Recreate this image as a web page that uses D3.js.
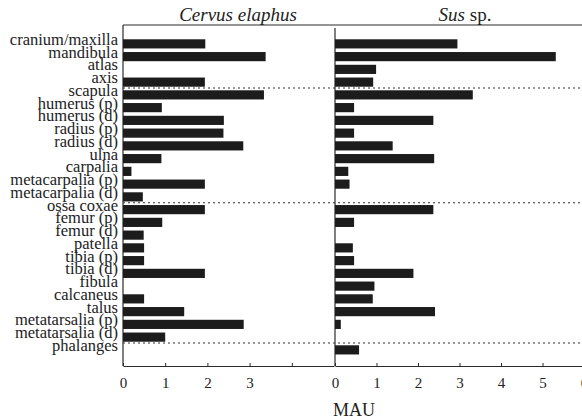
<!DOCTYPE html>
<html>
<head>
<meta charset="utf-8">
<script src="https://cdn.jsdelivr.net/npm/d3@7"></script>
<style>
  body { margin: 0; background: #fff; }
  svg { display: block; font-family: "Liberation Serif", "Times New Roman", serif; }
  .axis path, .axis line { stroke: #2a2a2a; }
  .axis text { font-size: 15px; fill: #222; font-family: "Liberation Serif", serif; }
</style>
</head>
<body>
<svg id="chart" width="582" height="420"></svg>
<script>
// skeletal parts, top to bottom
const parts = [
  "cranium/maxilla", "mandibula", "atlas", "axis", "scapula",
  "humerus (p)", "humerus (d)", "radius (p)", "radius (d)", "ulna",
  "carpalia", "metacarpalia (p)", "metacarpalia (d)", "ossa coxae",
  "femur (p)", "femur (d)", "patella", "tibia (p)", "tibia (d)",
  "fibula", "calcaneus", "talus", "metatarsalia (p)", "metatarsalia (d)",
  "phalanges"
];

// MAU values
const cervus = [1.95, 3.38, 0, 1.94, 3.34, 0.92, 2.39, 2.38, 2.85, 0.91,
  0.2, 1.94, 0.47, 1.94, 0.93, 0.49, 0.5, 0.5, 1.94, 0, 0.5, 1.45, 2.86, 1.0, 0];
const sus = [2.95, 5.32, 0.99, 0.92, 3.32, 0.46, 2.37, 0.46, 1.39, 2.39,
  0.32, 0.35, 0, 2.37, 0.46, 0, 0.43, 0.46, 1.89, 0.95, 0.91, 2.41, 0.14, 0, 0.58];

// dotted separators sit above these parts
const groupStarts = ["scapula", "ossa coxae", "phalanges"];

const ticksLeft = [0, 1, 2, 3, 4];
const labelsLeft = [0, 1, 2, 3];
const ticksRight = [0, 1, 2, 3, 4, 5, 6];

const svg = d3.select("#chart");
const plotTop = 25, plotBottom = 366;

const y = d3.scaleBand()
  .domain(parts)
  .range([37.5, 37.5 + 25 * 12.75])
  .paddingInner(0.28)
  .paddingOuter(0.14);

const xL = d3.scaleLinear().domain([0, 5]).range([123, 334]);
const xR = d3.scaleLinear().domain([0, 6]).range([335, 584]);

// frame lines
svg.append("line")
  .attr("x1", 123).attr("x2", 582).attr("y1", plotTop).attr("y2", plotTop)
  .attr("stroke", "#2a2a2a").attr("stroke-width", 1.2);
svg.append("line")
  .attr("x1", xL(0)).attr("x2", xL(0)).attr("y1", plotTop).attr("y2", plotBottom)
  .attr("stroke", "#2a2a2a").attr("stroke-width", 1.2);
svg.append("line")
  .attr("x1", xR(0)).attr("x2", xR(0)).attr("y1", plotTop + 3).attr("y2", plotBottom)
  .attr("stroke", "#2a2a2a").attr("stroke-width", 1.2);

// dotted separators
svg.selectAll("line.sep")
  .data(groupStarts)
  .enter()
  .append("line")
  .attr("class", "sep")
  .attr("x1", 123).attr("x2", 582)
  .attr("y1", d => y(d) - (y.step() - y.bandwidth()) / 2 - 0.5)
  .attr("y2", d => y(d) - (y.step() - y.bandwidth()) / 2 - 0.5)
  .attr("stroke", "#333")
  .attr("stroke-width", 1.2)
  .attr("stroke-dasharray", "2,3");

// bars
svg.selectAll("rect.cervus")
  .data(cervus)
  .enter()
  .append("rect")
  .attr("class", "cervus")
  .attr("x", xL(0))
  .attr("y", (d, i) => y(parts[i]))
  .attr("width", d => xL(d) - xL(0))
  .attr("height", y.bandwidth())
  .attr("fill", "#1c1c1c");

svg.selectAll("rect.sus")
  .data(sus)
  .enter()
  .append("rect")
  .attr("class", "sus")
  .attr("x", xR(0))
  .attr("y", (d, i) => y(parts[i]))
  .attr("width", d => xR(d) - xR(0))
  .attr("height", y.bandwidth())
  .attr("fill", "#1c1c1c");

// category labels
svg.selectAll("text.part")
  .data(parts)
  .enter()
  .append("text")
  .attr("class", "part")
  .attr("x", 118)
  .attr("y", d => y(d) + y.bandwidth() / 2 + 1)
  .attr("text-anchor", "end")
  .style("font-size", "16.5px")
  .style("fill", "#222")
  .text(d => d);

// x axes
svg.append("g")
  .attr("class", "axis")
  .attr("transform", `translate(0,${plotBottom})`)
  .call(d3.axisBottom(xL).tickValues(ticksLeft)
    .tickFormat(d => labelsLeft.includes(d) ? d3.format("d")(d) : "")
    .tickSizeInner(-3).tickSizeOuter(0).tickPadding(11));

svg.append("g")
  .attr("class", "axis")
  .attr("transform", `translate(0,${plotBottom})`)
  .call(d3.axisBottom(xR).tickValues(ticksRight)
    .tickFormat(d3.format("d"))
    .tickSizeInner(-3).tickSizeOuter(0).tickPadding(11));

svg.selectAll(".axis path").attr("stroke-width", 1.2);

// titles
svg.append("text")
  .attr("x", 238).attr("y", 21)
  .attr("text-anchor", "middle")
  .style("font-size", "19px").style("font-style", "italic").style("fill", "#222")
  .text("Cervus elaphus");

const t2 = svg.append("text")
  .attr("x", 465).attr("y", 21)
  .attr("text-anchor", "middle")
  .style("font-size", "19px").style("fill", "#222");
t2.append("tspan").style("font-style", "italic").text("Sus");
t2.append("tspan").text(" sp.");

// axis title
svg.append("text")
  .attr("x", 354).attr("y", 416)
  .attr("text-anchor", "middle")
  .style("font-size", "18px").style("fill", "#222")
  .text("MAU");
</script>
</body>
</html>
